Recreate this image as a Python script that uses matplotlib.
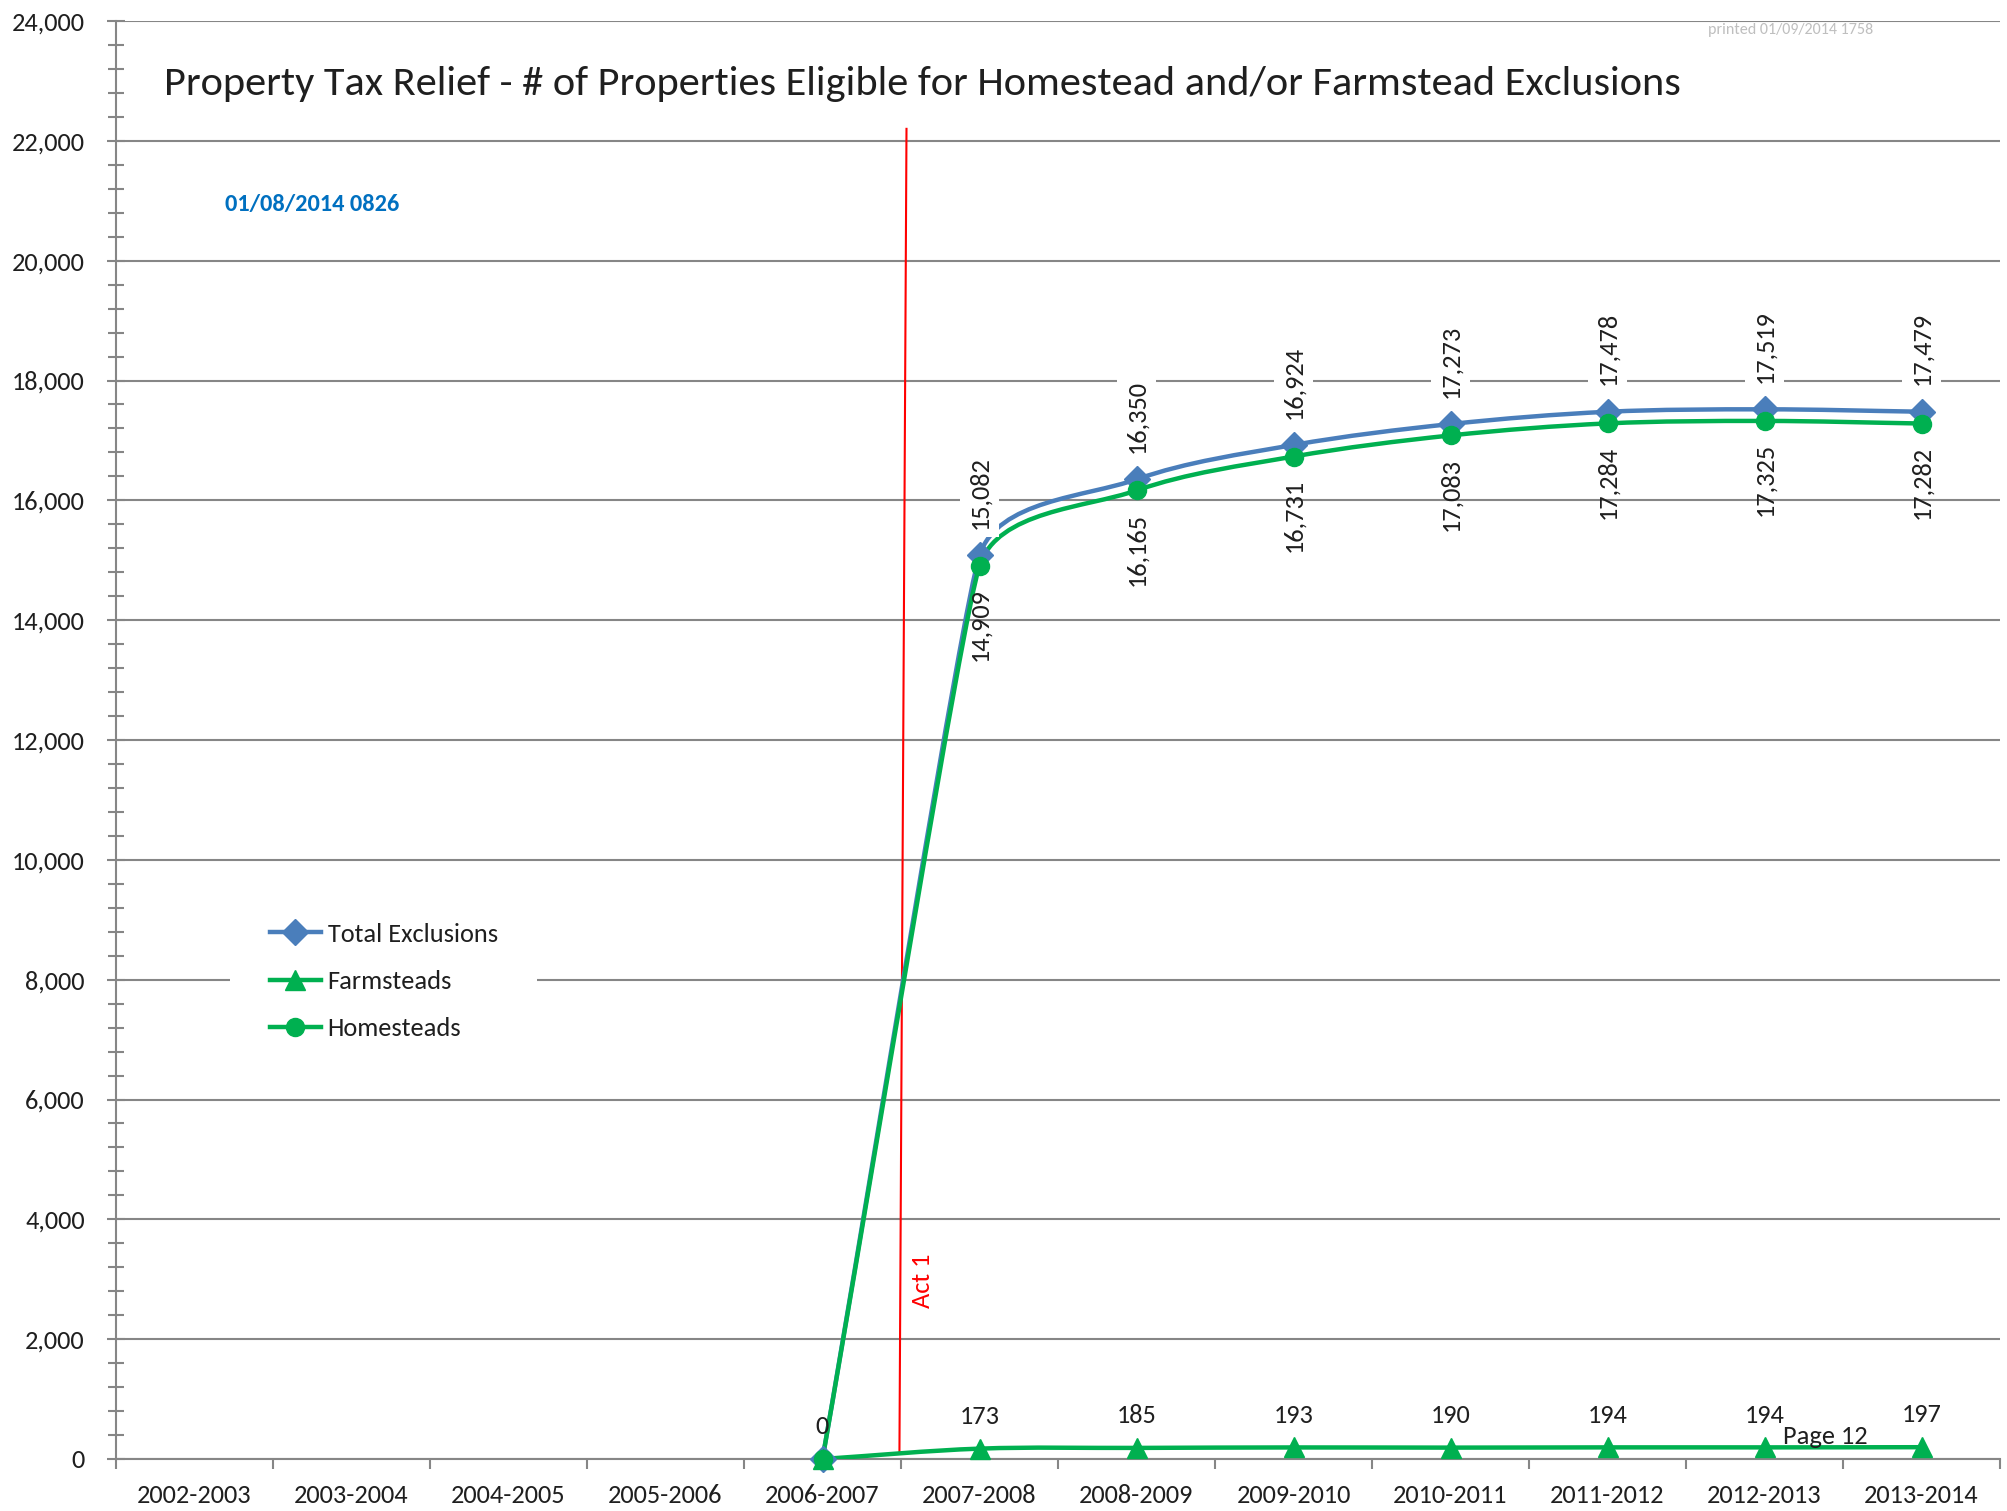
import numpy as np
import matplotlib
matplotlib.use('Agg')
import matplotlib.pyplot as plt
from matplotlib.path import Path
from matplotlib.patches import PathPatch
from matplotlib.lines import Line2D
from matplotlib import font_manager

names = {f.name for f in font_manager.fontManager.ttflist}
FONT = 'Carlito' if 'Carlito' in names else 'Open Sans'
plt.rcParams.update({
    "font.family": FONT,
    "font.size": 19,
})

years = ['2002-2003', '2003-2004', '2004-2005', '2005-2006', '2006-2007', '2007-2008',
         '2008-2009', '2009-2010', '2010-2011', '2011-2012', '2012-2013', '2013-2014']
first = 4  # series start at 2006-2007
total = [0, 15082, 16350, 16924, 17273, 17478, 17519, 17479]
farm = [0, 173, 185, 193, 190, 194, 194, 197]
home = [0, 14909, 16165, 16731, 17083, 17284, 17325, 17282]

BLUE = '#4A7EBB'
GREEN = '#00B050'
GRID = '#868686'
TXT = '#1F1F1F'

fig = plt.figure(figsize=(20.07, 15.11), dpi=100)
ax = fig.add_axes([116 / 2007, 1 - 1459 / 1511, 1884 / 2007, 1438 / 1511])
ax.set_xlim(-0.5, len(years) - 0.5)
ax.set_ylim(0, 24000)


def smooth_path(xs, ys):
    # excel-like smoothed line: bezier segments, tangent from neighbours
    pts = ax.transData.transform(np.column_stack([xs, ys]))
    n = len(pts)
    tang = []
    for i in range(n):
        d = pts[min(i + 1, n - 1)] - pts[max(i - 1, 0)]
        tang.append(d / np.hypot(*d))
    verts = [pts[0]]
    codes = [Path.MOVETO]
    for i in range(n - 1):
        p, q = pts[i], pts[i + 1]
        seg = np.hypot(*(q - p))
        d0 = min(seg, np.hypot(*(p - pts[i - 1]))) / 3 if i > 0 else seg / 3
        d1 = min(seg, np.hypot(*(pts[i + 2] - q))) / 3 if i + 2 < n else seg / 3
        verts += [p + tang[i] * d0, q - tang[i + 1] * d1, q]
        codes += [Path.CURVE4] * 3
    return Path(ax.transData.inverted().transform(verts), codes)


xs = np.arange(first, len(years))
series = [(total, BLUE, 'D', 13, 'Total Exclusions'),
          (farm, GREEN, '^', 15, 'Farmsteads'),
          (home, GREEN, 'o', 13, 'Homesteads')]
handles = []
for vals, col, mk, ms, lab in series:
    ax.add_patch(PathPatch(smooth_path(xs, vals), fc='none', ec=col, lw=3.2, zorder=3,
                           capstyle='round'))
    ax.plot(xs, vals, ls='none', marker=mk, ms=ms, color=col, zorder=4, clip_on=False)
    handles.append(Line2D([], [], color=col, lw=3.2, marker=mk, ms=ms))

# data labels
lab_fs = 19
for x, v in zip(xs[1:], total[1:]):
    ax.annotate(f'{v:,}', (x, v), xytext=(0, 19), textcoords='offset points', rotation=90,
                ha='center', va='bottom', fontsize=lab_fs, color=TXT, zorder=5,
                bbox=dict(fc='white', ec='none', boxstyle='square,pad=0.3'))
for x, v in zip(xs[1:], home[1:]):
    ax.annotate(f'{v:,}', (x, v), xytext=(0, -16), textcoords='offset points', rotation=90,
                ha='center', va='top', fontsize=lab_fs, color=TXT, zorder=5)
for x, v in zip(xs, farm):
    ax.annotate(f'{v:,}', (x, v), xytext=(0, 15), textcoords='offset points',
                ha='center', va='bottom', fontsize=lab_fs, color=TXT, zorder=5)

# axes styling
ax.set_xticks(np.arange(-0.5, len(years)))
ax.set_xticklabels([])
ax.set_xticks(np.arange(len(years)), minor=True)
ax.set_xticklabels(years, minor=True, fontsize=19, color=TXT)
ax.tick_params(axis='x', which='major', direction='out', length=7, width=1.5, color=GRID)
ax.tick_params(axis='x', which='minor', length=0, pad=18)
ax.set_yticks(np.arange(0, 24001, 2000))
ax.set_yticklabels([f'{v:,}' for v in range(0, 24001, 2000)], fontsize=19, color=TXT)
ax.set_yticks(np.arange(0, 24001, 400), minor=True)
ax.tick_params(axis='y', which='major', direction='inout', length=13, width=1.5, color=GRID, pad=16)
ax.tick_params(axis='y', which='minor', direction='inout', length=11, width=1.5, color=GRID)
ax.yaxis.grid(True, which='major', color=GRID, lw=1.5)
ax.set_axisbelow(True)
for s in ['top', 'right']:
    ax.spines[s].set_visible(False)
for s in ['left', 'bottom']:
    ax.spines[s].set_color(GRID)
    ax.spines[s].set_linewidth(1.5)

# Act 1 marker
ax.plot([4.49, 4.535], [90, 22200], color='#FF0000', lw=1.5, zorder=2.5)
ax.text(4.64, 2970, 'Act 1', rotation=90, ha='center', va='center', fontsize=19, color='#FF0000')

leg = fig.legend(handles, [s[4] for s in series], loc='upper left',
                 bbox_to_anchor=(230 / 2007, 1 - 883 / 1511), fontsize=19,
                 frameon=True, fancybox=False, edgecolor='none', facecolor='white',
                 framealpha=1, handlelength=1.95, handletextpad=0.25, labelspacing=0.92,
                 borderpad=1.5, borderaxespad=0)
for t in leg.get_texts():
    t.set_color(TXT)

fig.text(164 / 2007, 1 - 84 / 1511, 'Property Tax Relief - # of Properties Eligible for Homestead and/or Farmstead Exclusions',
         ha='left', va='center', fontsize=30.5, color=TXT)
fig.text(225 / 2007, 1 - 205 / 1511, '01/08/2014 0826', ha='left', va='center',
         fontsize=17.5, fontweight='bold', color='#0070C0')
fig.text(1791 / 2007, 1 - 30 / 1511, 'printed 01/09/2014 1758', ha='center', va='center',
         fontsize=11.5, color='#BFBFBF')
fig.text(1825 / 2007, 1 - 1437 / 1511, 'Page 12', ha='center', va='center',
         fontsize=19, color=TXT)

fig.savefig('out.png', dpi=100)
